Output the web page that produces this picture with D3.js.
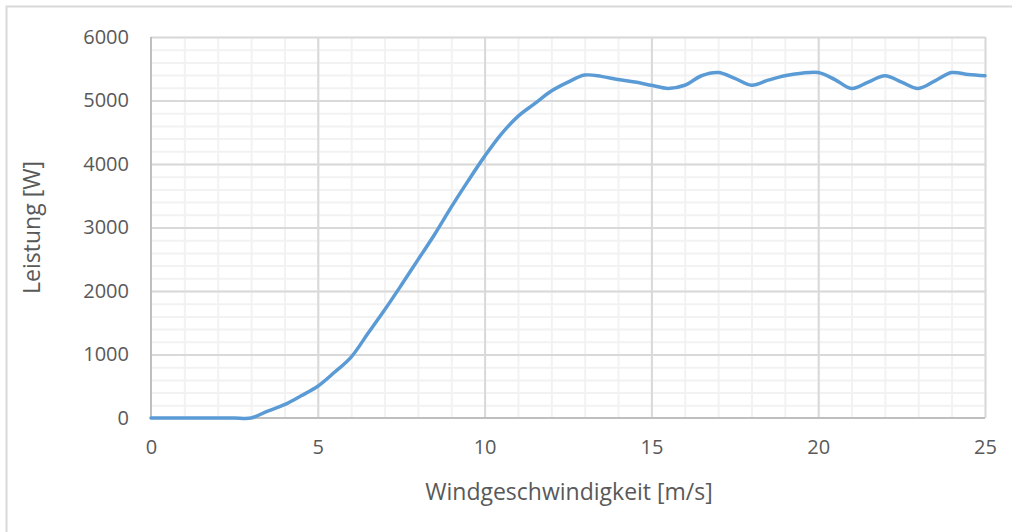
<!DOCTYPE html>
<html>
<head>
<meta charset="utf-8">
<script src="https://cdn.jsdelivr.net/npm/d3@7"></script>
<style>
  body { margin: 0; background: #fff; }
  text { font-family: "Open Sans", sans-serif; fill: #595959; }
</style>
</head>
<body>
<div id="chart"></div>
<script>
// wind speed [m/s] and power [W]
var speed = [0, 0.5, 1, 1.5, 2, 2.5, 3, 3.5, 4, 4.5, 5, 5.5, 6, 6.5, 7, 7.5, 8, 8.5, 9, 9.5,
  10, 10.5, 11, 11.5, 12, 12.5, 13, 13.5, 14, 14.5, 15, 15.5, 16, 16.5, 17, 17.5, 18, 18.5,
  19, 19.5, 20, 20.5, 21, 21.5, 22, 22.5, 23, 23.5, 24, 24.5, 25];
var power = [0, 0, 0, 0, 0, 0, 0, 110, 210, 350, 500, 720, 960, 1330, 1700, 2090, 2490, 2890,
  3320, 3730, 4120, 4470, 4750, 4950, 5150, 5290, 5400, 5380, 5330, 5290, 5240, 5190, 5240,
  5390, 5440, 5350, 5240, 5320, 5390, 5430, 5440, 5330, 5190, 5290, 5390, 5290, 5190, 5310,
  5440, 5410, 5390];
var xTicks = [0, 5, 10, 15, 20, 25];
var yTicks = [0, 1000, 2000, 3000, 4000, 5000, 6000];

var data = speed.map(function(s, i) { return {x: s, y: power[i]}; });

var W = 1012, H = 532;
var margin = {top: 37, right: 27, bottom: 114, left: 151};
var width = W - margin.left - margin.right;
var height = H - margin.top - margin.bottom;

var svg = d3.select("#chart").append("svg")
  .attr("width", W)
  .attr("height", H);

// outer chart frame
svg.append("rect")
  .attr("x", 6.5).attr("y", 6.5)
  .attr("width", 1100).attr("height", 600)
  .attr("fill", "none")
  .attr("stroke", "#d9d9d9")
  .attr("stroke-width", 2);

var g = svg.append("g")
  .attr("transform", "translate(" + margin.left + "," + margin.top + ")");

var xScale = d3.scaleLinear().domain([0, 25]).range([0, width]);
var yScale = d3.scaleLinear().domain([0, 6000]).range([height, 0]);

// minor grid
g.append("g")
  .attr("class", "grid-minor")
  .call(d3.axisBottom(xScale).tickValues(d3.range(1, 26)).tickSize(height).tickFormat(""))
  .call(function(s) { s.select(".domain").remove(); })
  .selectAll("line").attr("stroke", "#f2f2f2").attr("stroke-width", 2);
g.append("g")
  .attr("class", "grid-minor")
  .call(d3.axisLeft(yScale).tickValues(d3.range(200, 6001, 200)).tickSize(-width).tickFormat(""))
  .call(function(s) { s.select(".domain").remove(); })
  .selectAll("line").attr("stroke", "#f2f2f2").attr("stroke-width", 2);

// major grid
g.append("g")
  .attr("class", "grid")
  .call(d3.axisBottom(xScale).tickValues(xTicks.slice(1)).tickSize(height).tickFormat(""))
  .call(function(s) { s.select(".domain").remove(); })
  .selectAll("line").attr("stroke", "#d9d9d9").attr("stroke-width", 2);
g.append("g")
  .attr("class", "grid")
  .call(d3.axisLeft(yScale).tickValues(yTicks.slice(1)).tickSize(-width).tickFormat(""))
  .call(function(s) { s.select(".domain").remove(); })
  .selectAll("line").attr("stroke", "#d9d9d9").attr("stroke-width", 2);

// axes lines
g.append("line")
  .attr("x1", 0).attr("x2", 0).attr("y1", 0).attr("y2", height)
  .attr("stroke", "#bfbfbf").attr("stroke-width", 2);
g.append("line")
  .attr("x1", 0).attr("x2", width).attr("y1", height).attr("y2", height)
  .attr("stroke", "#bfbfbf").attr("stroke-width", 2);

// tick labels
var xAxis = g.append("g")
  .attr("transform", "translate(0," + height + ")")
  .call(d3.axisBottom(xScale).tickValues(xTicks).tickSize(0).tickPadding(22));
xAxis.select(".domain").remove();
xAxis.selectAll("text").style("font-size", "20px").attr("fill", "#595959");

var yAxis = g.append("g")
  .call(d3.axisLeft(yScale).tickValues(yTicks).tickSize(0).tickPadding(22).tickFormat(d3.format("d")));
yAxis.select(".domain").remove();
yAxis.selectAll("text").style("font-size", "20px").attr("fill", "#595959");

// the curve
var line = d3.line()
  .x(function(d) { return xScale(d.x); })
  .y(function(d) { return yScale(d.y); })
  .curve(d3.curveCatmullRom.alpha(0.5));

g.append("path")
  .datum(data)
  .attr("fill", "none")
  .attr("stroke", "#5b9bd5")
  .attr("stroke-width", 3.5)
  .attr("stroke-linejoin", "round")
  .attr("stroke-linecap", "round")
  .attr("d", line);

// axis titles
svg.append("text")
  .attr("x", margin.left + width / 2 + 1)
  .attr("y", 500)
  .attr("text-anchor", "middle")
  .style("font-size", "23px")
  .text("Windgeschwindigkeit [m/s]");

svg.append("text")
  .attr("transform", "translate(40," + (margin.top + height / 2) + ") rotate(-90)")
  .attr("text-anchor", "middle")
  .style("font-size", "23px")
  .text("Leistung [W]");
</script>
</body>
</html>
